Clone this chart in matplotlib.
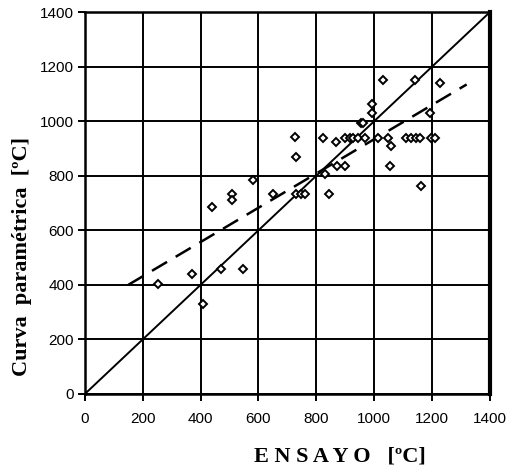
import matplotlib
matplotlib.use("Agg")
import matplotlib.pyplot as plt

ensayo = [253, 369, 409, 441, 470, 509, 509, 547, 582, 651, 731, 747, 760,
          728, 731, 830, 845, 824, 868, 870, 899, 899, 916, 927, 945, 968,
          953, 962, 991, 991, 1014, 1048, 1058, 1056, 1031, 1141, 1227, 1193,
          1112, 1129, 1146, 1158, 1198, 1210, 1162]
parametrica = [402, 439, 329, 685, 457, 733, 710, 457, 783, 733, 733, 733, 733,
               943, 868, 808, 733, 940, 925, 837, 837, 940, 940, 940, 940, 940,
               994, 992, 1065, 1029, 940, 940, 909, 837, 1151, 1151, 1141, 1029,
               940, 940, 940, 940, 940, 940, 763]

# ideal line and fitted (dashed) line
ideal_x = [0, 1400]
ideal_y = [0, 1400]
fit_x = [150, 1320]
fit_y = [400, 1135]

ticks = [0, 200, 400, 600, 800, 1000, 1200, 1400]

fig = plt.figure(figsize=(5.15, 4.70), dpi=100)
ax = fig.add_axes([0.165, 0.162, 0.786, 0.812])

ax.plot(ideal_x, ideal_y, color="black", lw=1.4, zorder=3)
ax.plot(fit_x, fit_y, color="black", lw=1.8, ls=(0, (7, 4)), zorder=3)
ax.plot(ensayo, parametrica, ls="none", marker="D", markersize=4.2,
        markerfacecolor="white", markeredgecolor="black", markeredgewidth=1.4,
        zorder=4)

ax.set_xlim(0, 1400)
ax.set_ylim(0, 1400)
ax.set_xticks(ticks)
ax.set_yticks(ticks)
ax.grid(True, color="black", lw=1.4)
ax.set_axisbelow(True)

for side in ["left", "bottom", "top"]:
    ax.spines[side].set_linewidth(1.8)
ax.spines["right"].set_linewidth(3.0)

ax.tick_params(direction="out", length=5, width=1.4, colors="black")
for lab in ax.get_xticklabels() + ax.get_yticklabels():
    lab.set_fontfamily("Liberation Sans")
    lab.set_fontsize(11)
ax.tick_params(axis="x", pad=8)
ax.tick_params(axis="y", pad=3)

ax.set_xlabel("E N S A Y O   [ºC]", fontfamily="Liberation Serif",
              fontweight="bold", fontsize=16)
ax.set_ylabel("Curva  paramétrica  [ºC]", fontfamily="Liberation Serif",
              fontweight="bold", fontsize=16)
ax.xaxis.set_label_coords(0.63, -0.138)
ax.yaxis.set_label_coords(-0.131, 0.36)

fig.savefig("out.png", dpi=100)
